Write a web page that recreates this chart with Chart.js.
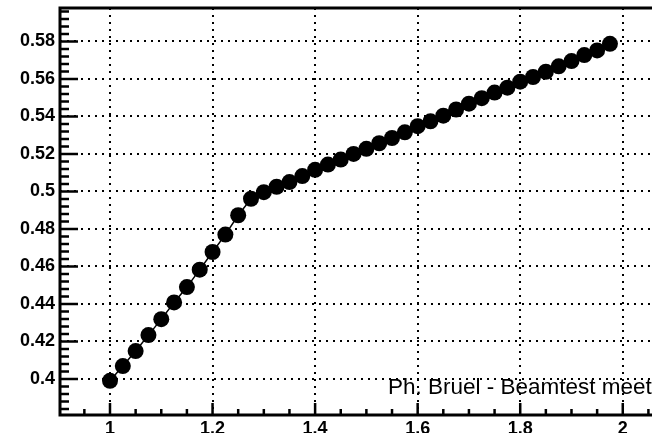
<!DOCTYPE html>
<html><head><meta charset="utf-8">
<script src="https://cdn.jsdelivr.net/npm/chart.js@4"></script>
<style>html,body{margin:0;padding:0;background:#fff;overflow:hidden}canvas{display:block}</style>
</head><body>
<canvas id="c" width="652" height="433"></canvas>
<script>
const xValues = [1.000,1.025,1.050,1.075,1.100,1.125,1.150,1.175,1.200,1.225,
                 1.250,1.275,1.300,1.325,1.350,1.375,1.400,1.425,1.450,1.475,
                 1.500,1.525,1.550,1.575,1.600,1.625,1.650,1.675,1.700,1.725,
                 1.750,1.775,1.800,1.825,1.850,1.875,1.900,1.925,1.950,1.975];
const yValues = [0.3990,0.4069,0.4149,0.4234,0.4319,0.4408,0.4490,0.4583,0.4677,0.4770,
                 0.4873,0.4961,0.4996,0.5025,0.5050,0.5082,0.5115,0.5143,0.5170,0.5200,
                 0.5227,0.5257,0.5285,0.5315,0.5348,0.5374,0.5404,0.5437,0.5468,0.5497,
                 0.5527,0.5553,0.5585,0.5610,0.5638,0.5667,0.5695,0.5727,0.5752,0.5787];
const xTickValues = [1, 1.2, 1.4, 1.6, 1.8, 2];
const yTickValues = [0.40, 0.42, 0.44, 0.46, 0.48, 0.50, 0.52, 0.54, 0.56, 0.58];
const xRange = [0.9025, 2.057];
const yRange = [0.3808, 0.5978];
const xMinorStep = 0.05;
const yMinorStep = 0.004;
const annotationText = 'Ph. Bruel - Beamtest meeting';

const points = xValues.map((x, i) => ({x: x, y: yValues[i]}));
const fmt = v => String(+Number(v).toFixed(3));
const noPad = s => { s.paddingTop = 0; s.paddingBottom = 0; s.paddingLeft = 0; s.paddingRight = 0; };

const framePlugin = {
  id: 'rootFrame',
  afterDraw(chart) {
    const ctx = chart.ctx, a = chart.chartArea;
    const xs = chart.scales.x, ys = chart.scales.y;
    ctx.save();
    ctx.strokeStyle = '#000';
    ctx.setLineDash([]);
    ctx.lineWidth = 2.5;
    ctx.beginPath();
    const eps = 1e-9;
    for (let v = Math.ceil(xRange[0] / xMinorStep) * xMinorStep; v <= xRange[1] + eps; v += xMinorStep) {
      const p = xs.getPixelForValue(v);
      const major = xTickValues.some(t => Math.abs(t - v) < 1e-6);
      const len = major ? 12 : 6;
      ctx.moveTo(p, a.bottom); ctx.lineTo(p, a.bottom - len);
    }
    for (let v = Math.ceil(yRange[0] / yMinorStep) * yMinorStep; v <= yRange[1] + eps; v += yMinorStep) {
      const p = ys.getPixelForValue(v);
      const major = yTickValues.some(t => Math.abs(t - v) < 1e-6);
      const len = major ? 18 : 9;
      ctx.moveTo(a.left, p); ctx.lineTo(a.left + len, p);
    }
    ctx.stroke();
    ctx.lineWidth = 3;
    ctx.beginPath();
    ctx.moveTo(a.right + 2, a.top);
    ctx.lineTo(a.left, a.top);
    ctx.lineTo(a.left, a.bottom);
    ctx.lineTo(a.right + 2, a.bottom);
    ctx.stroke();
    ctx.fillStyle = '#000';
    ctx.font = '22.5px "Liberation Sans", Arial, sans-serif';
    ctx.textBaseline = 'alphabetic';
    ctx.textAlign = 'left';
    ctx.fillText(annotationText, 388, 394);
    ctx.restore();
  }
};

const tickFont = {family: '"Liberation Sans", Arial, sans-serif', size: 18, weight: 'bold'};

new Chart(document.getElementById('c'), {
  type: 'scatter',
  data: {
    datasets: [{
      data: points,
      showLine: true,
      borderColor: '#000',
      borderWidth: 1.5,
      backgroundColor: '#000',
      pointBackgroundColor: '#000',
      pointBorderColor: '#000',
      pointBorderWidth: 0,
      pointRadius: 8,
      pointHoverRadius: 8,
      clip: false
    }]
  },
  options: {
    responsive: false,
    animation: false,
    devicePixelRatio: 1,
    layout: {autoPadding: false, padding: {top: 8, left: 0, right: 0, bottom: 0}},
    plugins: {legend: {display: false}, tooltip: {enabled: false}},
    events: [],
    scales: {
      x: {
        type: 'linear', min: xRange[0], max: xRange[1],
        afterBuildTicks: s => { s.ticks = xTickValues.map(v => ({value: v})); },
        afterFit: s => { s.height = 18; noPad(s); },
        grid: {color: '#000', lineWidth: 2, drawTicks: false},
        border: {display: false, dash: [2, 5]},
        ticks: {padding: 3, color: '#000', font: tickFont, autoSkip: false, maxRotation: 0, callback: v => fmt(v)}
      },
      y: {
        type: 'linear', min: yRange[0], max: yRange[1],
        afterBuildTicks: s => { s.ticks = yTickValues.map(v => ({value: v})); },
        afterFit: s => { s.width = 60; noPad(s); },
        grid: {color: '#000', lineWidth: 2, drawTicks: false},
        border: {display: false, dash: [2, 5]},
        ticks: {padding: 5, color: '#000', font: tickFont, autoSkip: false, callback: v => fmt(v)}
      }
    }
  },
  plugins: [framePlugin]
});
</script>
</body></html>
